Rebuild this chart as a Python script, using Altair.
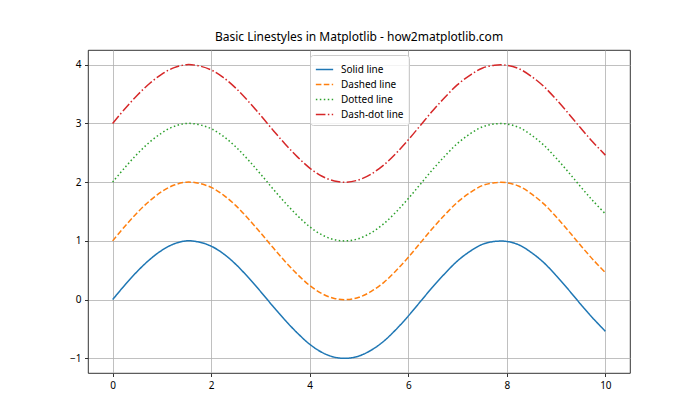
import altair as alt
import pandas as pd

x_vals = [0.0, 0.25, 0.5, 0.75, 1.0, 1.25, 1.5, 1.75, 2.0, 2.25, 2.5, 2.75, 3.0, 3.25, 3.5, 3.75,
          4.0, 4.25, 4.5, 4.75, 5.0, 5.25, 5.5, 5.75, 6.0, 6.25, 6.5, 6.75, 7.0, 7.25, 7.5, 7.75,
          8.0, 8.25, 8.5, 8.75, 9.0, 9.25, 9.5, 9.75, 10.0]

solid = [0.00, 0.25, 0.48, 0.68, 0.84, 0.95, 1.00, 0.98, 0.91, 0.78, 0.60, 0.38, 0.14, -0.11, -0.35, -0.57,
         -0.76, -0.90, -0.98, -1.00, -0.96, -0.86, -0.71, -0.51, -0.28, -0.03, 0.22, 0.45, 0.66, 0.82, 0.94, 0.99,
         0.99, 0.93, 0.80, 0.63, 0.41, 0.17, -0.08, -0.32, -0.54]
dashed = [1.00, 1.25, 1.48, 1.68, 1.84, 1.95, 2.00, 1.98, 1.91, 1.78, 1.60, 1.38, 1.14, 0.89, 0.65, 0.43,
          0.24, 0.10, 0.02, 0.00, 0.04, 0.14, 0.29, 0.49, 0.72, 0.97, 1.22, 1.45, 1.66, 1.82, 1.94, 1.99,
          1.99, 1.93, 1.80, 1.63, 1.41, 1.17, 0.92, 0.68, 0.46]
dotted = [2.00, 2.25, 2.48, 2.68, 2.84, 2.95, 3.00, 2.98, 2.91, 2.78, 2.60, 2.38, 2.14, 1.89, 1.65, 1.43,
          1.24, 1.10, 1.02, 1.00, 1.04, 1.14, 1.29, 1.49, 1.72, 1.97, 2.22, 2.45, 2.66, 2.82, 2.94, 2.99,
          2.99, 2.93, 2.80, 2.63, 2.41, 2.17, 1.92, 1.68, 1.46]
dashdot = [3.00, 3.25, 3.48, 3.68, 3.84, 3.95, 4.00, 3.98, 3.91, 3.78, 3.60, 3.38, 3.14, 2.89, 2.65, 2.43,
           2.24, 2.10, 2.02, 2.00, 2.04, 2.14, 2.29, 2.49, 2.72, 2.97, 3.22, 3.45, 3.66, 3.82, 3.94, 3.99,
           3.99, 3.93, 3.80, 3.63, 3.41, 3.17, 2.92, 2.68, 2.46]

series_names = ["Solid line", "Dashed line", "Dotted line", "Dash-dot line"]
series_values = [solid, dashed, dotted, dashdot]
colors = ["#1f77b4", "#ff7f0e", "#2ca02c", "#d62728"]
dashes = [[1, 0], [5.55, 2.4], [1.5, 2.475], [9.6, 2.4, 1.5, 2.4]]

rows = []
for name, vals in zip(series_names, series_values):
    for xv, yv in zip(x_vals, vals):
        rows.append({"x": xv, "y": yv, "series": name})
df = pd.DataFrame(rows)

FONT = "Noto Sans"

chart = alt.Chart(df).mark_line(strokeWidth=1.5, interpolate="catmull-rom").encode(
    x=alt.X("x:Q", scale=alt.Scale(domain=[-0.5, 10.5], nice=False, zero=False),
            axis=alt.Axis(values=[0, 2, 4, 6, 8, 10], title=None, format="d")),
    y=alt.Y("y:Q", scale=alt.Scale(domain=[-1.25, 4.25], nice=False, zero=False),
            axis=alt.Axis(values=[-1, 0, 1, 2, 3, 4], title=None, format="d")),
    color=alt.Color("series:N", scale=alt.Scale(domain=series_names, range=colors),
                    sort=series_names,
                    legend=alt.Legend(title=None, orient="none", legendX=222, legendY=5,
                                      symbolType="stroke", symbolSize=300, symbolStrokeWidth=1.5,
                                      labelFontSize=10, labelFont=FONT, labelColor="#000",
                                      rowPadding=0, padding=5, fillColor="rgba(255,255,255,0.8)",
                                      strokeColor="#cccccc", cornerRadius=3, labelOffset=7)),
    strokeDash=alt.StrokeDash("series:N", scale=alt.Scale(domain=series_names, range=dashes),
                              sort=series_names, legend=None),
    detail="series:N",
).properties(
    width=542, height=323,
    title=alt.TitleParams("Basic Linestyles in Matplotlib - how2matplotlib.com",
                          fontSize=12, fontWeight="normal", font=FONT, color="#000", offset=6),
    autosize="none",
    padding={"left": 80, "top": 42, "right": 62, "bottom": 39},
).configure_view(
    stroke="#000", strokeWidth=0.8
).configure_axis(
    grid=True, gridColor="#b0b0b0", gridWidth=0.8, domain=False,
    tickColor="#000", tickSize=3.5, tickWidth=0.8,
    labelFont=FONT, labelFontSize=10, labelColor="#000", labelPadding=3.5
)

chart.save("out.html", embed_options={"renderer": "svg", "actions": False})
